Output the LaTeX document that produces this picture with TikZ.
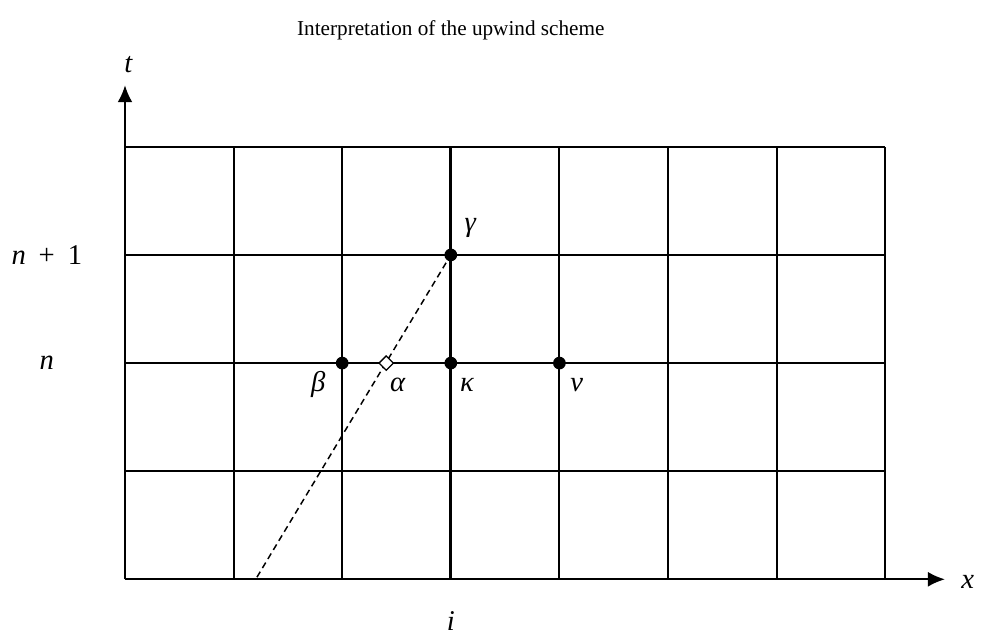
\documentclass[tikz,border=0pt]{standalone}
\usepackage{fontspec}
\setmainfont{Liberation Serif}
\usepackage{tikz}
\usetikzlibrary{arrows.meta, shapes.geometric}

\tikzset{
    gridline/.style={black, line width=0.9pt},
    axisline/.style={black, line width=0.9pt, -{Latex[length=8pt, width=7pt]}},
    dot/.style={circle, fill=black, inner sep=0pt, minimum size=6pt},
    foot/.style={diamond, draw, fill=white, line width=0.6pt, inner sep=0pt, minimum size=7pt},
    lbl/.style={font=\fontsize{13.5}{16}\selectfont\itshape}
}

\begin{document}
\begin{tikzpicture}[x=1.8cm, y=1.792cm]
                \useasboundingbox (-1.151,-0.508) rectangle (7.882,5.358);
                % grid
                \foreach \row in {1,...,4}
                    \draw[gridline] (0,\row) -- (7,\row);
                \foreach \col in {1,2,4,5,6,7}
                    \draw[gridline] (\col,0) -- (\col,4);
                \draw[black, line width=1.3pt] (3,0) -- (3,4);
                % axes
                \draw[axisline] (0,0) -- (7.55,0);
                \draw[axisline] (0,0) -- (0,4.57);
                \node[lbl] (xlabel) at (7.76,-0.02) {x};
                \node[lbl] (tlabel) at (0.03,4.76) {t};
                \node[lbl] (ilabel) at (3,-0.39) {i};
                \node[lbl] (nplus) at (-0.72,3) {n\hspace{0.45em}\upshape+\hspace{0.45em}1};
                \node[lbl] (nrow) at (-0.72,2) {n};
                \node (title) at (3,5.08) {Interpretation of the upwind scheme};
                % characteristic
                \node[dot] (gamma) at (3,3) {};
                \coordinate (base) at (1.215,0.02);
                \draw[black, line width=0.7pt, dash pattern=on 3pt off 2pt] (base) -- (gamma);
                \node[foot] (alpha) at (2.405,2) {};
                \node[dot] (beta) at (2,2) {};
                \node[dot] (kappa) at (3,2) {};
                \node[dot] (nu) at (4,2) {};
                \node[lbl] at (3.18,3.25) {γ};
                \node[lbl] at (1.78,1.8) {β};
                \node[lbl] at (2.51,1.8) {α};
                \node[lbl] at (3.15,1.8) {κ};
                \node[lbl] at (4.16,1.8) {ν};
            \end{tikzpicture}
\end{document}
